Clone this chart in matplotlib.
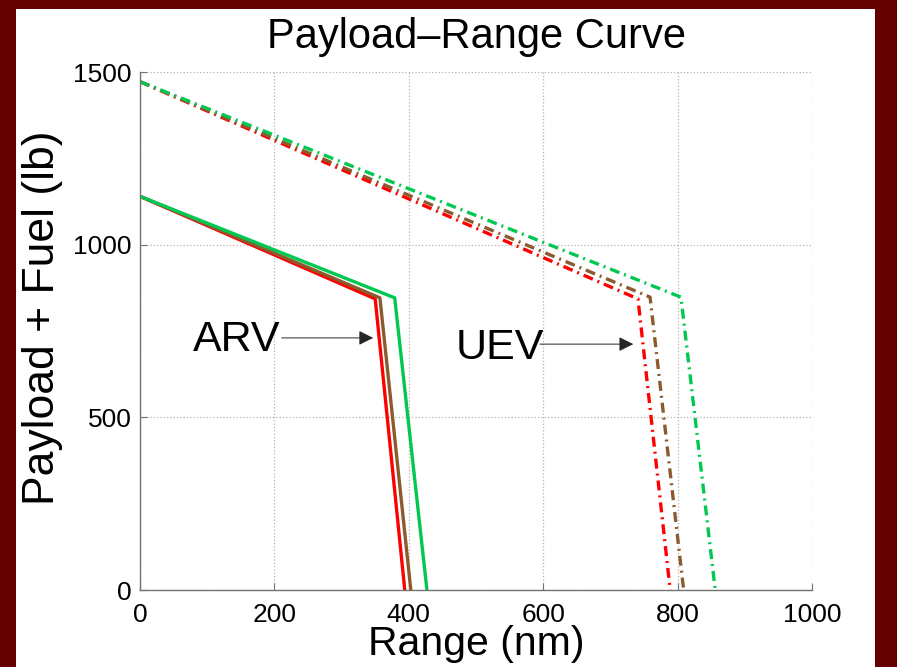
import matplotlib
matplotlib.use("Agg")
import matplotlib.pyplot as plt
from matplotlib.patches import Rectangle

plt.rcParams['font.family'] = ['Liberation Sans', 'DejaVu Sans']

# ARV curves (solid)
arv_red_x = [0, 350, 394]
arv_red_y = [1140, 843, 0]
arv_brown_x = [0, 357, 403]
arv_brown_y = [1140, 846, 0]
arv_green_x = [0, 379, 427]
arv_green_y = [1140, 846, 0]

# UEV curves (dash-dot)
uev_red_x = [0, 741, 789]
uev_red_y = [1472, 843, 0]
uev_brown_x = [0, 759, 809]
uev_brown_y = [1472, 848, 0]
uev_green_x = [0, 805, 856]
uev_green_y = [1472, 848, 0]

xticks = [0, 200, 400, 600, 800, 1000]
yticks = [0, 500, 1000, 1500]

red = '#ff0000'
brown = '#8c5a2e'
green = '#00c850'

fig = plt.figure(figsize=(8.97, 6.67), dpi=100)
fig.patch.set_facecolor('#650000')
fig.patches.append(Rectangle((16 / 897, 0), (875 - 16) / 897, (667 - 9) / 667,
                             transform=fig.transFigure, facecolor='white',
                             edgecolor='none', zorder=-10))

ax = fig.add_axes([140 / 897, 77 / 667, 672 / 897, 518 / 667])

dd = (0, (3, 1.5, 0.6, 1.5))
ax.plot(arv_red_x, arv_red_y, color=red, lw=2.4)
ax.plot(arv_brown_x, arv_brown_y, color=brown, lw=2.4)
ax.plot(arv_green_x, arv_green_y, color=green, lw=2.4)
ax.plot(uev_red_x, uev_red_y, color=red, lw=2.4, linestyle=dd)
ax.plot(uev_brown_x, uev_brown_y, color=brown, lw=2.4, linestyle=dd)
ax.plot(uev_green_x, uev_green_y, color=green, lw=2.4, linestyle=dd)

ax.set_xlim(0, 1000)
ax.set_ylim(0, 1500)
ax.set_xticks(xticks)
ax.set_yticks(yticks)
ax.grid(True, linestyle=':', color='0.7', lw=0.9)
ax.set_axisbelow(True)
for s in ['top', 'right']:
    ax.spines[s].set_visible(False)
for s in ['left', 'bottom']:
    ax.spines[s].set_color('0.45')
    ax.spines[s].set_linewidth(1.0)
ax.tick_params(direction='in', length=5, color='0.45', labelsize=19)
ax.tick_params(axis='x', pad=9)
ax.tick_params(axis='y', pad=6)

ax.set_title('Payload\u2013Range Curve', fontsize=30, pad=17)
ax.set_xlabel('Range (nm)', fontsize=29.5, labelpad=-1)
ax.set_ylabel('Payload + Fuel (lb)', fontsize=32)
ax.yaxis.set_label_coords(-0.115, 0.526)

ax.text(79, 724, 'ARV', fontsize=31, ha='left', va='center')
ax.annotate('', xy=(347, 730), xytext=(211, 730),
            arrowprops=dict(arrowstyle='-|>', color='0.15', lw=0.7,
                            mutation_scale=22, shrinkA=0, shrinkB=0))
ax.text(469, 701, 'UEV', fontsize=31, ha='left', va='center')
ax.annotate('', xy=(734, 712), xytext=(595, 712),
            arrowprops=dict(arrowstyle='-|>', color='0.15', lw=0.7,
                            mutation_scale=22, shrinkA=0, shrinkB=0))

fig.savefig('out.png', dpi=100, facecolor=fig.get_facecolor())
